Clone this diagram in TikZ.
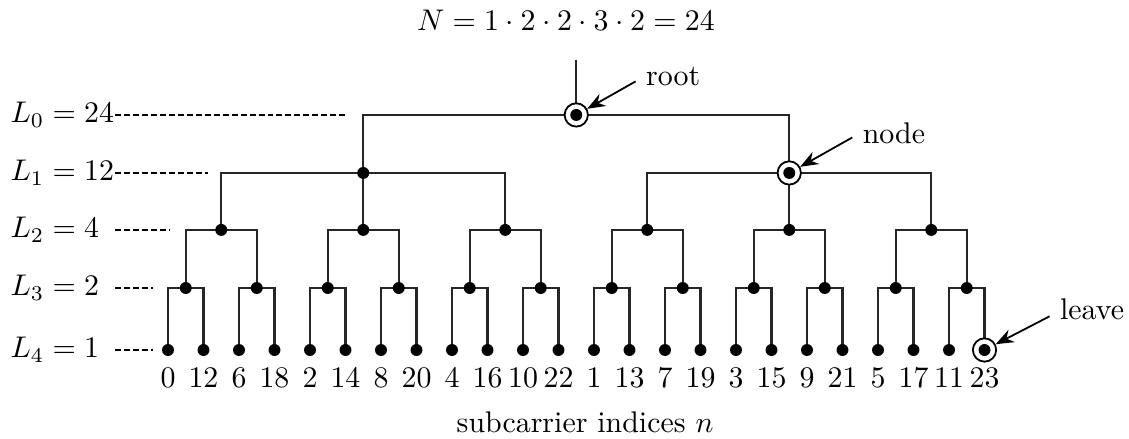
\documentclass[tikz,border=0pt]{standalone}
\usepackage{amsmath}
\usetikzlibrary{arrows.meta, positioning}

\begin{document}
\begin{tikzpicture}[x=0.4175cm, y=1cm,
        branch/.style={line width=0.7pt, black!85},
        dot/.style={circle, fill=black, inner sep=0pt, minimum size=4pt},
        ring/.style={circle, draw=black, fill=white, line width=0.6pt, inner sep=0pt, minimum size=7.8pt},
        guide/.style={dash pattern=on 2pt off 1pt, line width=0.4pt},
        levlbl/.style={anchor=west, inner sep=0pt},
        idx/.style={inner sep=0pt},
        pointer/.style={-{Stealth[length=6pt, width=4.6pt]}, line width=0.6pt}
    ]
        \useasboundingbox (-4.732,1.352) rectangle (27.07,-3.81);

        % Tree positions: root, 2 nodes, 6, 12, 24 leaves
        \coordinate (r) at (11.5,0);
        \coordinate (rtop) at (11.5,0.65);
        \foreach \i/\x in {0/5.5, 1/17.5}
            \coordinate (p\i) at (\x,-0.682);
        \foreach \i in {0,...,5}
            \coordinate (q\i) at ({4*\i+1.5},-1.352);
        \foreach \i in {0,...,11}
            \coordinate (m\i) at ({2*\i+0.5},-2.035);
        \foreach \i in {0,...,23}
            \coordinate (l\i) at (\i,-2.764);

        % Branches
        \draw[branch] (rtop) -- (r);
        \draw[branch] (p0) |- (r) -| (p1);
        \draw[branch] (q0) |- (p0) -| (q2)  (p0) -- (q1);
        \draw[branch] (q3) |- (p1) -| (q5)  (p1) -- (q4);
        \foreach \i [evaluate=\i as \a using int(2*\i), evaluate=\i as \b using int(2*\i+1)] in {0,...,5}
            \draw[branch] (m\a) |- (q\i) -| (m\b);
        \foreach \i [evaluate=\i as \a using int(2*\i), evaluate=\i as \b using int(2*\i+1)] in {0,...,11}
            \draw[branch] (l\a) |- (m\i) -| (l\b);

        % Marked nodes and dots
        \node[ring] (rmark) at (r) {};
        \node[ring] (p1mark) at (p1) {};
        \node[ring] (l23mark) at (l23) {};
        \foreach \n in {r, p0, p1, q0, q1, q2, q3, q4, q5}
            \node[dot] at (\n) {};
        \foreach \i in {0,...,11}
            \node[dot] at (m\i) {};
        \foreach \i in {0,...,23}
            \node[dot] at (l\i) {};

        % Level labels with guide lines
        \foreach \k/\len/\y/\e in {0/24/0/5.04, 1/12/-0.682/1.13, 2/4/-1.352/0.06, 3/2/-2.035/-0.42, 4/1/-2.764/-0.42} {
            \node[levlbl] (lev\k) at (-4.45,\y) {$L_\k = \len$};
            \draw[guide] (-1.49,\y) -- (\e,\y);
        }

        % Subcarrier indices under the leaves
        \foreach \n [count=\k from 0] in {0,12,6,18,2,14,8,20,4,16,10,22,1,13,7,19,3,15,9,21,5,17,11,23}
            \node[idx] (n\k) at (\k,-3.087) {$\n$};

        % Title and axis text
        \node (title) at (11.21,1.117) {$N = 1\cdot 2\cdot 2\cdot 3\cdot 2 = 24$};
        \node (axis) at (11.75,-3.61) {subcarrier indices $n$};

        % Annotations
        \node (rootlbl) at (14.23,0.447) {root};
        \node (nodelbl) at (20.45,-0.212) {node};
        \node (leavelbl) at (26.03,-2.28) {leave};
        \draw[pointer] ([yshift=-1.5pt]rootlbl.west) -- (rmark);
        \draw[pointer] ([yshift=-1.5pt]nodelbl.west) -- (p1mark);
        \draw[pointer] ([yshift=-2.5pt]leavelbl.west) -- (l23mark);

    \end{tikzpicture}
\end{document}
